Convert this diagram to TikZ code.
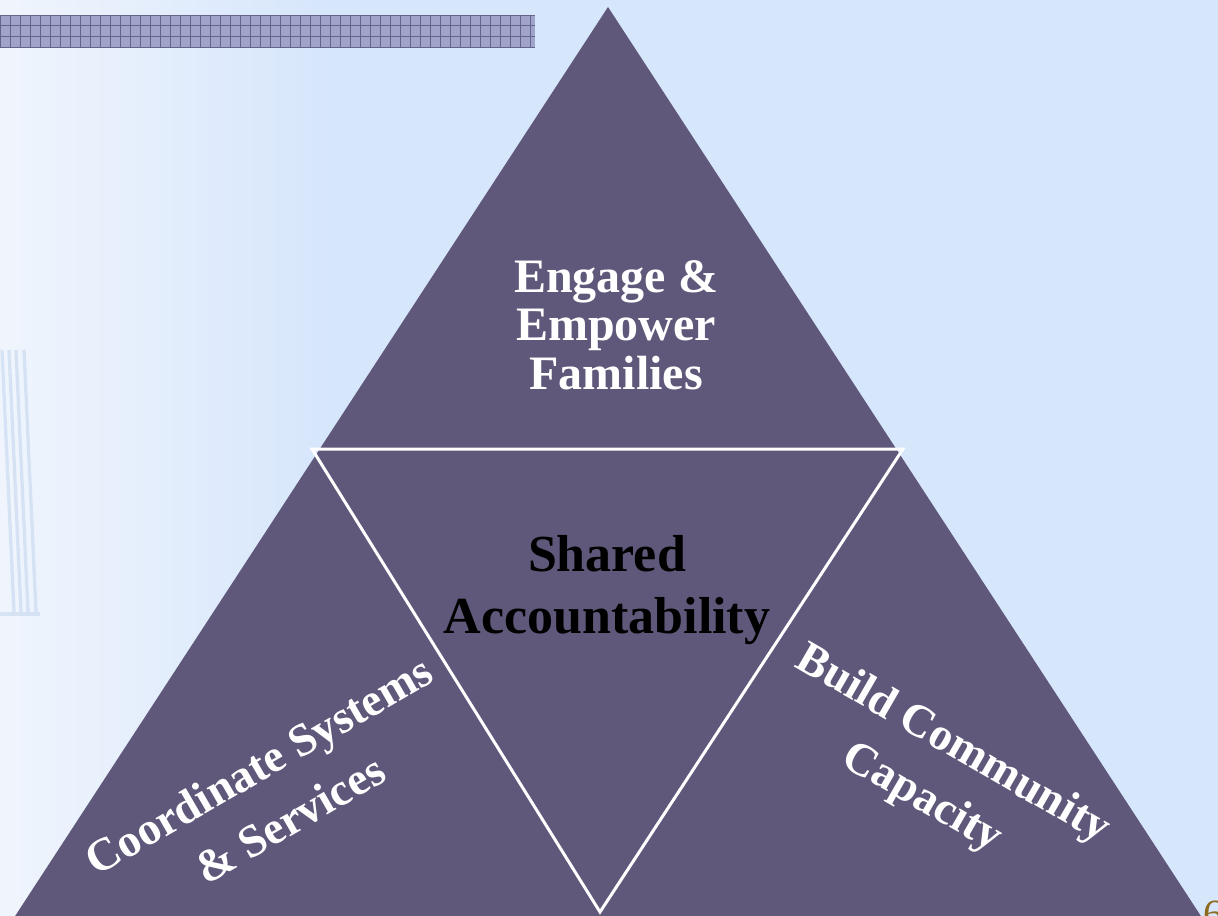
\documentclass[tikz,border=0pt]{standalone}
\usepackage{fontspec}
\setmainfont{Liberation Serif}
\usetikzlibrary{calc}
\definecolor{slidebg}{HTML}{D6E6FB}
\definecolor{slidelight}{HTML}{F0F5FD}
\definecolor{pyramid}{HTML}{5F587A}
\definecolor{gridfill}{HTML}{A0A3CA}
\definecolor{gridline}{HTML}{656589}
\definecolor{pagenum}{HTML}{8C6A1E}
\definecolor{streak}{HTML}{A8C3E6}
\tikzset{
  side text/.style={text=white,inner sep=0pt,align=center,
    font=\bfseries\fontsize{34.5}{46.5}\selectfont},
}

\begin{document}
\begin{tikzpicture}[x=0.75pt,y=-0.75pt]
\useasboundingbox (0,0) rectangle (1218,916);
\clip (0,0) rectangle (1218,916);

% slide background
\fill[slidebg] (0,0) rectangle (1218,916);
\shade[left color=slidelight,right color=slidebg] (0,0) rectangle (330,916);
\foreach \sx in {2,9,16,24}
  \draw[streak,line width=2.5pt,opacity=.35] (\sx,350) -- (\sx+12,612);
\draw[streak,line width=2.5pt,opacity=.35] (0,614) -- (40,614);

% grid bar at the top
\fill[gridfill] (0,15) rectangle (535,47);
\foreach \gx in {0,10,...,530}
  \draw[gridline,thin] (\gx,15) -- (\gx,47);
\foreach \gy in {15,25.7,36.3,47}
  \draw[gridline,thin] (0,\gy) -- (535,\gy);

% the pyramid
\coordinate (apex) at (608,7);
\coordinate (baseL) at (6,930);
\coordinate (baseR) at (1210,930);
\fill[pyramid] (apex) -- (baseL) -- (baseR) -- cycle;

% inner triangle
\coordinate (midL) at (312,449);
\coordinate (midR) at (903,449);
\coordinate (tip) at (600,912);
\draw[white,line width=2.25pt] (midL) -- (midR) -- (tip) -- cycle;

\node[text=white,inner sep=0pt,align=center,
  font=\bfseries\fontsize{36}{36.5}\selectfont] (engage) at (616,325)
  {Engage \&\\Empower\\Families};
\node[text=black,inner sep=0pt,align=center,
  font=\bfseries\fontsize{39}{47}\selectfont] (shared) at (607,590)
  {Shared\\Accountability};
\node[side text,rotate=30] (coord) at (274,792)
  {Coordinate Systems\\\& Services};
\node[side text,rotate=-30] (build) at (937,772)
  {Build Community\\Capacity};

\node[text=pagenum,anchor=north west,inner sep=0pt,
  font=\fontsize{30}{30}\selectfont] (page) at (1203,901) {6};
\end{tikzpicture}
\end{document}
